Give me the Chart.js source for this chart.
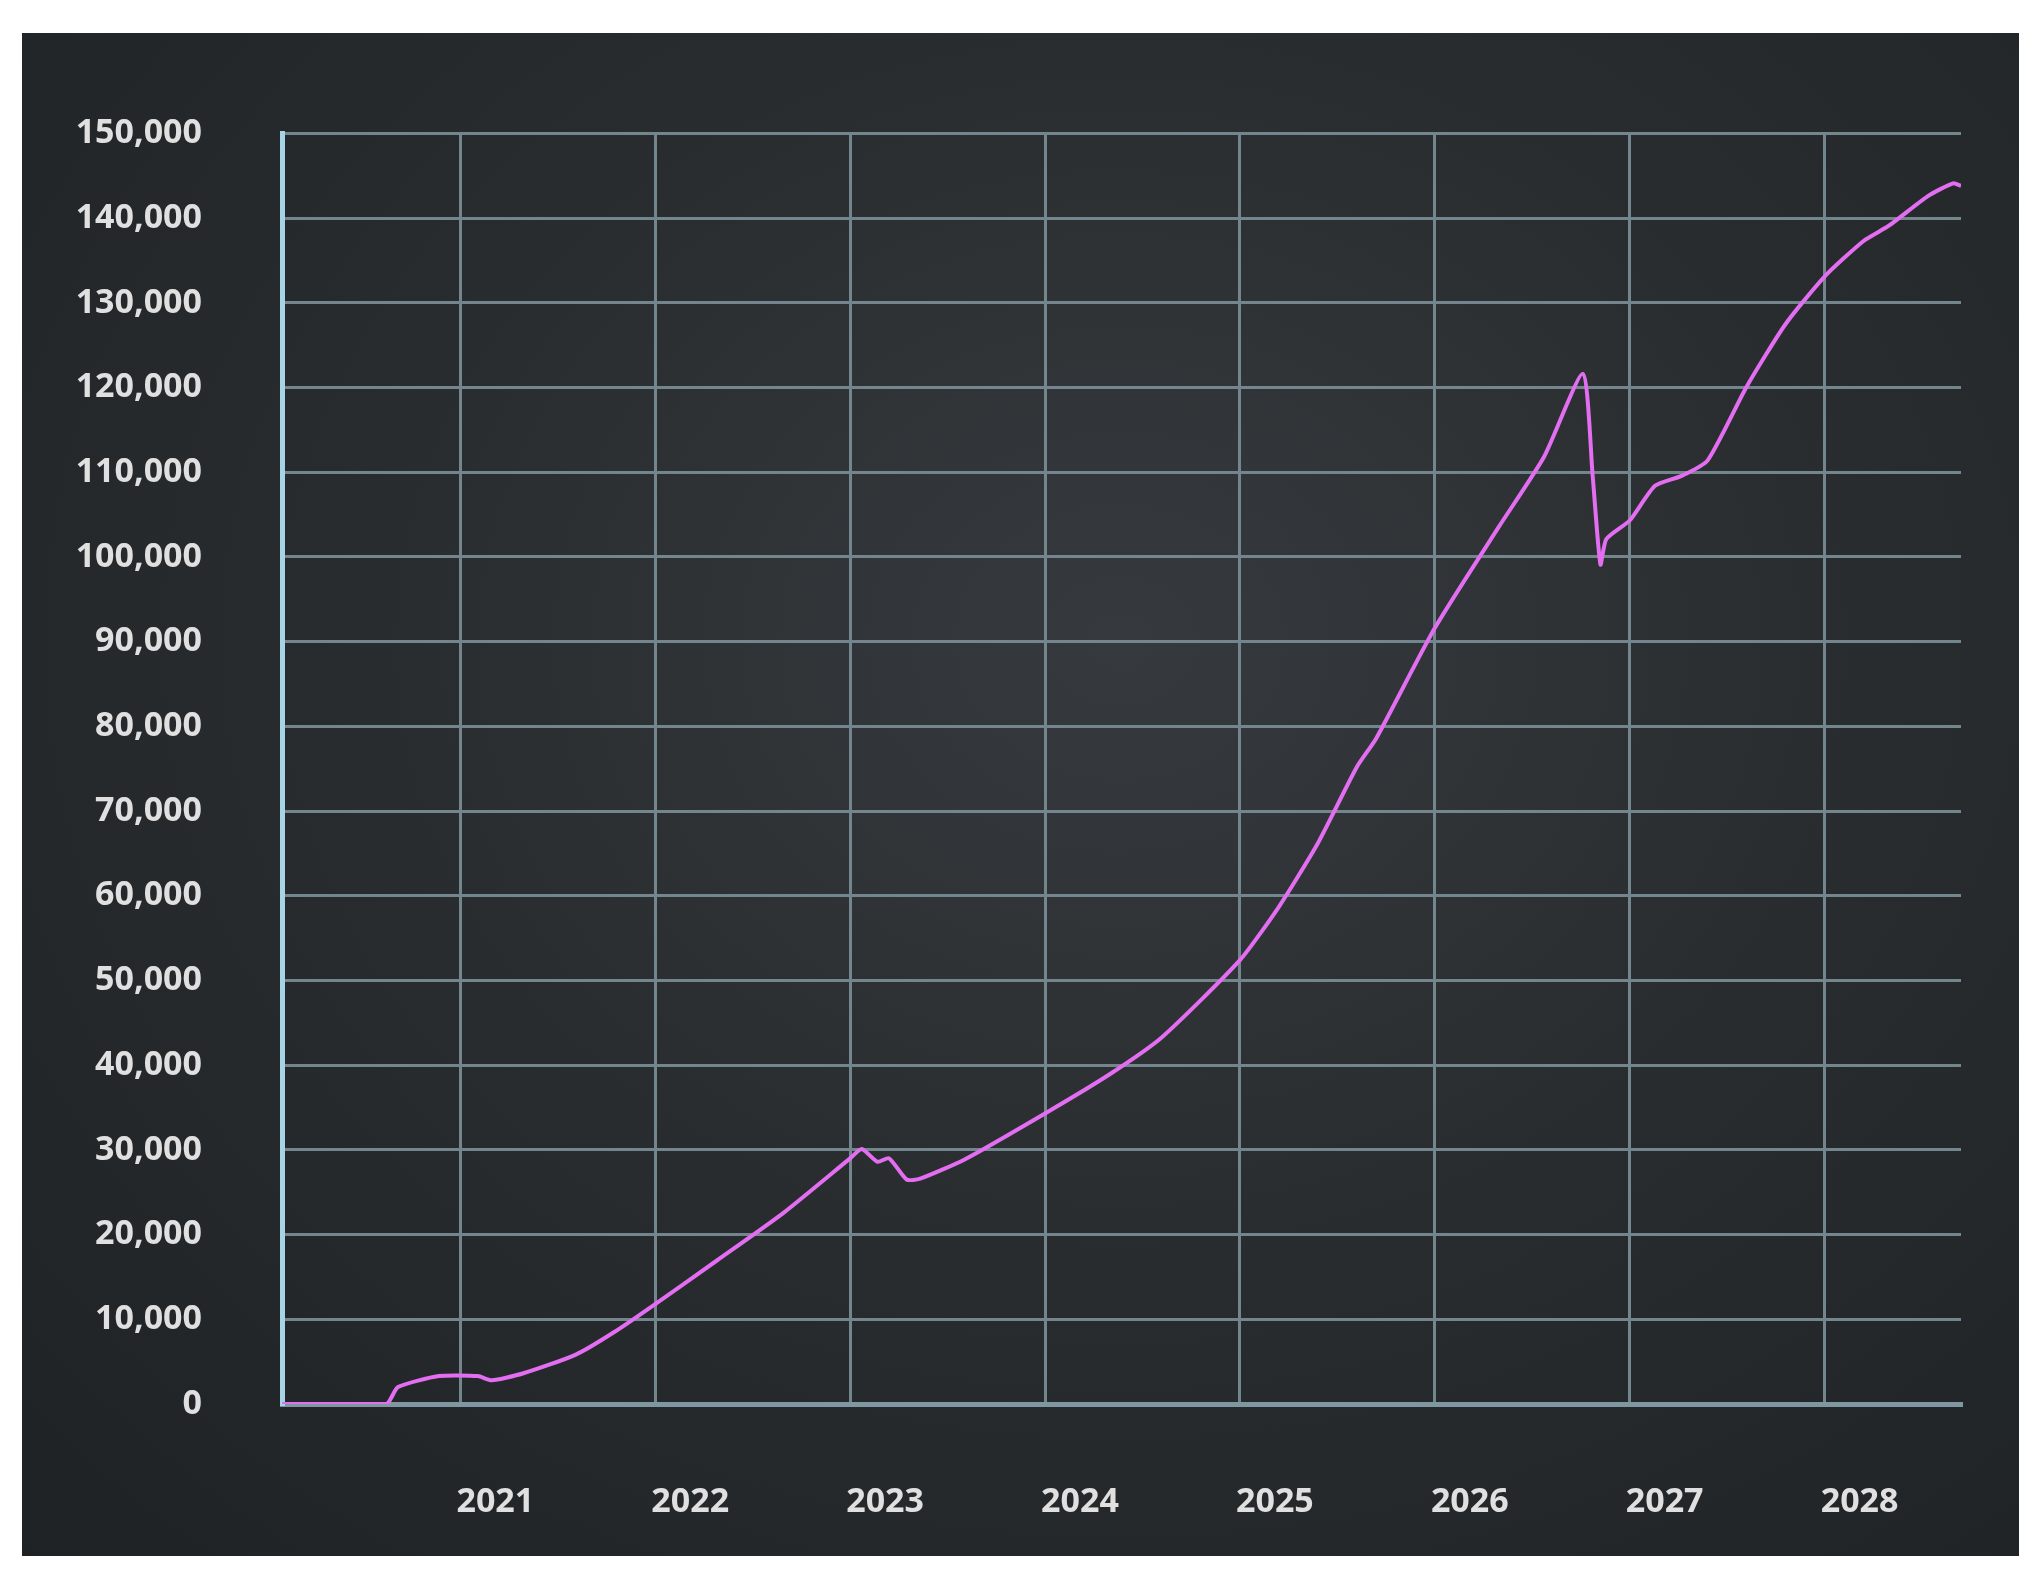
<!DOCTYPE html>
<html>
<head>
<meta charset="utf-8">
<script src="https://cdn.jsdelivr.net/npm/chart.js@4/dist/chart.umd.min.js"></script>
<style>
  body { margin:0; background:#fff; }
  #panel { position:absolute; left:22px; top:33px; width:1997px; height:1523px;
    background: radial-gradient(ellipse at 55% 40%, #363a3e 0%, #2a2d30 45%, #1f2224 100%); }
</style>
</head>
<body>
<div id="panel"><canvas id="chart"></canvas></div>
<script>
// decimal years and values
var years = [2020.085, 2020.62, 2020.68, 2020.89, 2021.09, 2021.16, 2021.32, 2021.59, 2021.79, 2022.0,
  2022.32, 2022.66, 2023.0, 2023.06, 2023.14, 2023.2, 2023.29, 2023.36, 2023.59, 2024.0,
  2024.33, 2024.6, 2025.0, 2025.2, 2025.4, 2025.6, 2025.7, 2026.0, 2026.33, 2026.56,
  2026.76, 2026.81, 2026.85, 2026.88, 2027.0, 2027.13, 2027.27, 2027.4, 2027.6, 2027.8,
  2028.0, 2028.2, 2028.33, 2028.53, 2028.66, 2028.70];
var values = [0, 0, 2000, 3300, 3300, 2800, 3600, 5800, 8500, 11800,
  17000, 22600, 29000, 30100, 28600, 29000, 26500, 26600, 28900, 34300,
  38900, 43300, 52400, 58700, 66200, 75200, 78600, 91600, 103600, 111800,
  121600, 109600, 99100, 102100, 104300, 108400, 109600, 111400, 120100, 127500,
  133100, 137300, 139100, 142600, 144100, 143800];
var yearTicks = [2021, 2022, 2023, 2024, 2025, 2026, 2027, 2028];
var xMin = 2020.085, xMax = 2028.70;
var yMin = 0, yMax = 150000, yStep = 10000;

var pts = years.map(function(y, i){ return {x: y, y: values[i]}; });
var tickFont = { family: 'Open Sans', size: 34, weight: 'bold' };

new Chart(document.getElementById('chart'), {
  type: 'line',
  data: { datasets: [{ data: pts, borderColor: '#e36ef2', borderWidth: 4,
    pointRadius: 0, tension: 0.2, fill: false }] },
  options: {
    responsive: true, maintainAspectRatio: false, animation: false,
    layout: { padding: { top: 22, right: 58, left: 0, bottom: 0 } },
    plugins: { legend: { display: false }, tooltip: { enabled: false } },
    scales: {
      x: {
        type: 'linear', min: xMin, max: xMax,
        afterBuildTicks: function(s){ s.ticks = yearTicks.map(function(v){ return {value: v}; }); },
        afterFit: function(s){ s.height = 152; },
        ticks: { color: '#e0e0e0', font: tickFont, padding: 78, labelOffset: 35,
          callback: function(v){ return String(v); }, maxRotation: 0, autoSkip: false },
        grid: { color: '#73868e', lineWidth: 3, drawTicks: false },
        border: { color: '#7f97a0', width: 5 }
      },
      y: {
        min: yMin, max: yMax,
        afterFit: function(s){ s.width = 260; },
        ticks: { stepSize: yStep, color: '#e0e0e0', font: tickFont, padding: 80,
          callback: function(v){ return v.toLocaleString('en-US'); } },
        grid: { color: '#73868e', lineWidth: 3, drawTicks: false },
        border: { color: '#a6d4e4', width: 5 }
      }
    }
  }
});
</script>
</body>
</html>
